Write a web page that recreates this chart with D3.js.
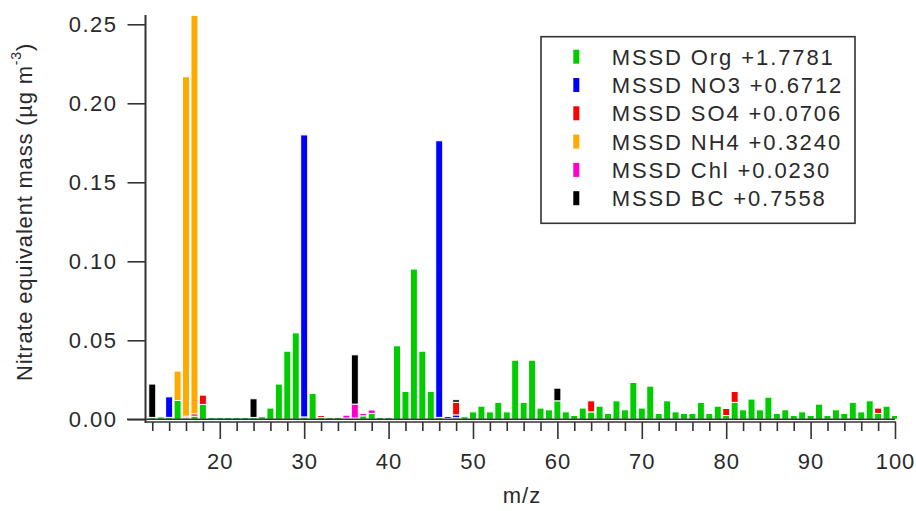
<!DOCTYPE html>
<html>
<head>
<meta charset="utf-8">
<script src="https://cdn.jsdelivr.net/npm/d3@7"></script>
<style>
  html, body { margin: 0; padding: 0; background: #fff; }
  svg { display: block; }
  text { font-family: "Liberation Sans", Arial, sans-serif; fill: #2a2a2a; }
</style>
</head>
<body>
<svg id="chart" width="916" height="511"></svg>
<script>
// ---- DATA ----
const mz = d3.range(12, 101);
const orgValues = [
  0.0012,0.0015,0.0012,0.0119,0.0010,0.0020,0.0094,0.0012,0.0012,0.0012, // 12-21
  0.0012,0.0012,0.0012,0.0016,0.0071,0.0223,0.0431,0.0547,0.0015,0.0164, // 22-31
  0.0012,0.0012,0.0012,0.0008,0.0008,0.0022,0.0037,0.0012,0.0012,0.0465, // 32-41
  0.0176,0.0951,0.0431,0.0176,0.0012,0.0006,0.0010,0.0016,0.0047,0.0083, // 42-51
  0.0047,0.0107,0.0047,0.0374,0.0107,0.0374,0.0071,0.0060,0.0117,0.0047, // 52-61
  0.0024,0.0071,0.0047,0.0083,0.0037,0.0117,0.0060,0.0233,0.0071,0.0210, // 62-71
  0.0037,0.0117,0.0047,0.0037,0.0037,0.0107,0.0037,0.0083,0.0024,0.0107, // 72-81
  0.0060,0.0128,0.0060,0.0140,0.0037,0.0060,0.0024,0.0047,0.0024,0.0096, // 82-91
  0.0024,0.0060,0.0037,0.0107,0.0047,0.0117,0.0037,0.0083,0.0024        // 92-100
];
const no3Points = { 14: 0.0130, 30: 0.1785, 46: 0.1751, 47: 0.0012, 48: 0.0018 };
const so4Points = { 16: 0.0010, 17: 0.0015, 18: 0.0059, 32: 0.0012, 48: 0.0080, 64: 0.0070, 80: 0.0045, 81: 0.0069, 98: 0.0034 };
const nh4Points = { 15: 0.0186, 16: 0.2148, 17: 0.2522 };
const chlPoints = { 35: 0.0018, 36: 0.0088, 37: 0.0015, 38: 0.0022 };
const bcPoints  = { 12: 0.0211, 24: 0.0118, 36: 0.0312, 48: 0.0016, 60: 0.0080 };

const seriesNames  = ["Org", "NO3", "SO4", "NH4", "Chl", "BC"];
const legendLabels = ["MSSD Org +1.7781", "MSSD NO3 +0.6712", "MSSD SO4 +0.0706",
                      "MSSD NH4 +0.3240", "MSSD Chl +0.0230", "MSSD BC +0.7558"];
const colors = ["#00cc00", "#0000ff", "#ff0000", "#ffaa00", "#ff00cc", "#000000"];
const yTicks = [0, 0.05, 0.10, 0.15, 0.20, 0.25];
const xMajorTicks = [20, 30, 40, 50, 60, 70, 80, 90, 100];
const xMinorTicks = d3.range(12, 101, 2);

// ---- BUILD TABLE ----
const sparse = [no3Points, so4Points, nh4Points, chlPoints, bcPoints];
const table = mz.map((m, i) => {
  const row = { mz: m, Org: orgValues[i] };
  seriesNames.slice(1).forEach((s, k) => { row[s] = sparse[k][m] || 0; });
  return row;
});
const stacked = d3.stack().keys(seriesNames)(table);

// ---- LAYOUT ----
const svg = d3.select("#chart");
const xLeft = 145.5, xRight = 895, yTop = 15, yZero = 419.3;
const x = d3.scaleLinear().domain([11.2, 100]).range([xLeft, xRight]);
const y = d3.scaleLinear().domain([0, 0.25]).range([yZero, 24.3]);
const axisY = 422;
const axisColor = "#333";

svg.append("clipPath").attr("id", "plotclip")
  .append("rect").attr("x", xLeft).attr("y", yTop).attr("width", xRight - xLeft + 2).attr("height", yZero - yTop + 1);

// bars
const barW = 7;
const gBars = svg.append("g").attr("clip-path", "url(#plotclip)");
stacked.forEach((layer, k) => {
  gBars.selectAll(null).data(layer.filter(d => d[1] - d[0] > 0)).enter().append("rect")
    .attr("x", d => x(d.data.mz) - barW / 2)
    .attr("width", barW)
    .attr("y", d => y(d[1]))
    .attr("height", d => Math.max(0, y(d[0]) - y(d[1])))
    .attr("fill", colors[k])
    .attr("stroke", "#fff")
    .attr("stroke-width", 1);
});

// zero line (extends as y tick)
svg.append("line").attr("x1", 127).attr("x2", xRight).attr("y1", yZero).attr("y2", yZero)
  .attr("stroke", axisColor).attr("stroke-width", 1.6);

// y axis
const yAxis = d3.axisLeft(y).tickValues(yTicks).tickFormat(d3.format(".2f")).tickSize(18).tickPadding(10);
const gy = svg.append("g").attr("transform", `translate(${xLeft},0)`).call(yAxis);
gy.select(".domain").remove();
gy.selectAll(".tick line").attr("stroke", axisColor).attr("stroke-width", 1.6);
gy.selectAll(".tick text").attr("font-size", 22).attr("letter-spacing", 1.5).attr("fill", "#2a2a2a")
  .attr("font-family", "Liberation Sans, Arial, sans-serif");
svg.append("line").attr("x1", xLeft).attr("x2", xLeft).attr("y1", yTop).attr("y2", axisY + 1)
  .attr("stroke", axisColor).attr("stroke-width", 2);

// x axis
const gxMinor = svg.append("g").attr("transform", `translate(0,${axisY})`)
  .call(d3.axisBottom(x).tickValues(xMinorTicks.filter(t => xMajorTicks.indexOf(t) < 0)).tickSize(9).tickFormat(""));
gxMinor.select(".domain").remove();
gxMinor.selectAll(".tick line").attr("stroke", axisColor).attr("stroke-width", 1.6);
const gx = svg.append("g").attr("transform", `translate(0,${axisY})`)
  .call(d3.axisBottom(x).tickValues(xMajorTicks).tickSize(17).tickPadding(14));
gx.select(".domain").remove();
gx.selectAll(".tick line").attr("stroke", axisColor).attr("stroke-width", 1.6);
gx.selectAll(".tick text").attr("font-size", 22).attr("letter-spacing", 1).attr("fill", "#2a2a2a")
  .attr("font-family", "Liberation Sans, Arial, sans-serif");
svg.append("line").attr("x1", xLeft).attr("x2", xRight + 1).attr("y1", axisY).attr("y2", axisY)
  .attr("stroke", axisColor).attr("stroke-width", 1.6);

// axis titles
svg.append("text").attr("x", 522).attr("y", 503).attr("text-anchor", "middle")
  .attr("font-size", 22).attr("letter-spacing", 1).text("m/z");
const yt = svg.append("text").attr("transform", "translate(32,212) rotate(-90)")
  .attr("text-anchor", "middle").attr("font-size", 22).attr("letter-spacing", 0.8);
yt.append("tspan").text("Nitrate equivalent mass (µg m");
yt.append("tspan").attr("font-size", 14).attr("dy", -11).text("-3");
yt.append("tspan").attr("dy", 11).text(")");

// legend
const lg = svg.append("g");
lg.append("rect").attr("x", 541).attr("y", 36.7).attr("width", 314).attr("height", 186.6)
  .attr("fill", "#fff").attr("stroke", axisColor).attr("stroke-width", 1.6);
legendLabels.forEach((lab, i) => {
  const cy = 56.7 + i * 28.3;
  lg.append("rect").attr("x", 573.3).attr("y", cy - 7).attr("width", 6).attr("height", 14)
    .attr("fill", colors[i]);
  lg.append("text").attr("x", 611.7).attr("y", cy + 8).attr("font-size", 22).attr("letter-spacing", 1.9)
    .text(lab);
});
</script>
</body>
</html>
